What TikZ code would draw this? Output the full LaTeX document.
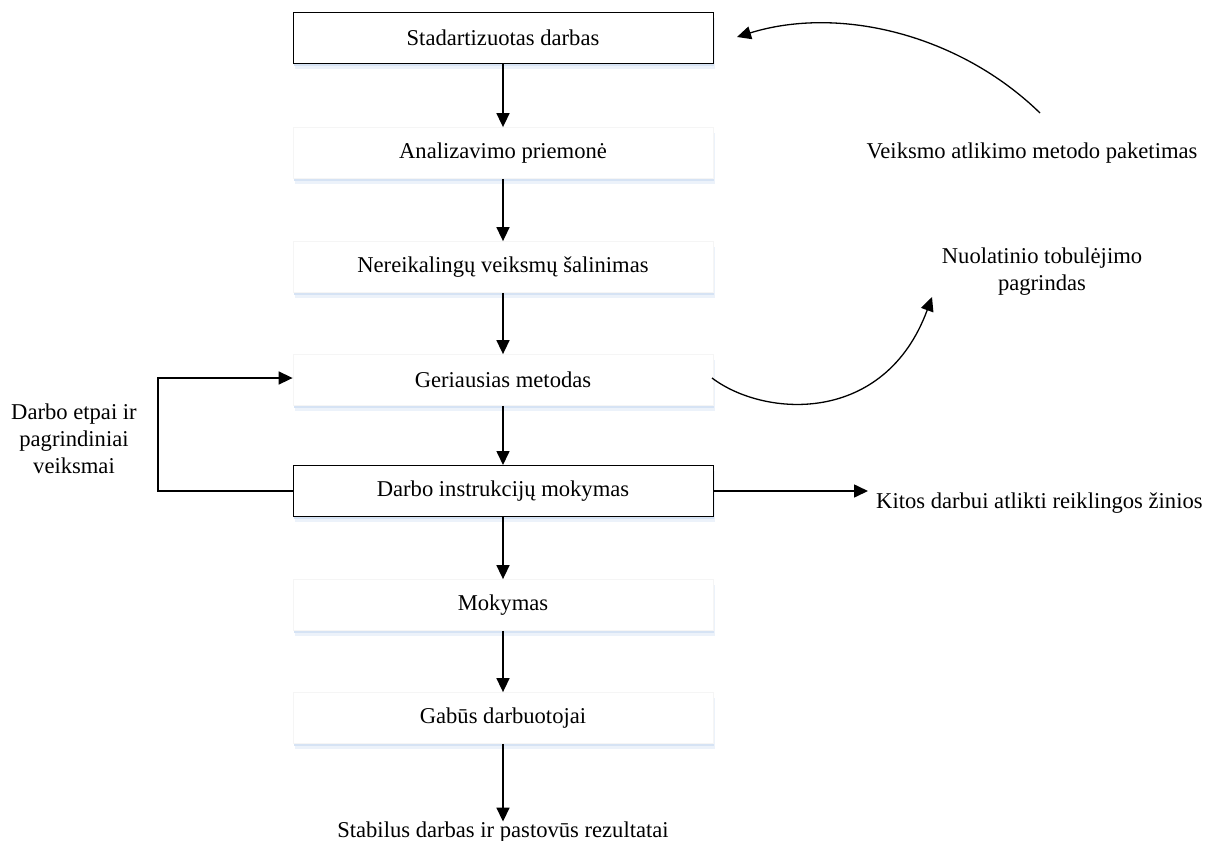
\documentclass[tikz,border=0pt]{standalone}
\usepackage{fontspec}
\setmainfont{Liberation Serif}
\usetikzlibrary{arrows.meta,shadows,calc}

\definecolor{shadenear}{RGB}{214,227,244}
\definecolor{shadefar}{RGB}{236,242,250}

\tikzset{
  flowbox/.style={rectangle, minimum width=420pt, minimum height=51pt,
    fill=white, inner sep=0pt,
    general shadow={fill=shadefar, shadow yshift=-5pt, shadow xshift=1.5pt},
    general shadow={fill=shadenear, shadow yshift=-2.5pt, shadow xshift=0.5pt}},
  keybox/.style={flowbox, draw=black, line width=1pt},
  plainbox/.style={flowbox, draw=black!4, line width=0.8pt},
  note/.style={align=center, inner sep=0pt},
  flow/.style={line width=1.6pt, -{Triangle[length=14pt,width=13pt]}},
  curvearrow/.style={line width=1.3pt, -{Triangle[length=14pt,width=13pt]}}
}

\begin{document}
\begin{tikzpicture}[x=1pt,y=-1pt,font=\fontsize{22.6}{27}\selectfont]
\useasboundingbox (0,0) rectangle (1219,841);

% main chain
\node[keybox]   (std)  at (503,38)  {Stadartizuotas darbas};
\node[plainbox] (anal) at (503,153) {Analizavimo priemonė};
\node[plainbox] (ner)  at (503,267) {Nereikalingų veiksmų šalinimas};
\node[plainbox] (geri) at (503,380) {Geriausias metodas};
\node[keybox]   (inst) at (503,491) {Darbo instrukcijų mokymas};
\node[plainbox] (mok)  at (503,605) {Mokymas};
\node[plainbox] (gab)  at (503,718) {Gabūs darbuotojai};
\node[note]     (stab) at (503,832) {Stabilus darbas ir pastovūs rezultatai};

% side notes
\node[note] (veik) at (1032,153) {Veiksmo atlikimo metodo paketimas};
\node[note] (nuol) at (1042,272) {Nuolatinio tobulėjimo\\pagrindas};
\node[note] (etap) at (74,439)   {Darbo etpai ir\\pagrindiniai\\veiksmai};
\node[note, anchor=west] (kit) at (876,503) {Kitos darbui atlikti reiklingos žinios};

% free ends of the curved arrows
\coordinate (c1s) at (1040,113);
\coordinate (c1e) at (737,37);
\coordinate (c2s) at (712,378);
\coordinate (c2e) at (932,297);
\coordinate (loopx) at (158,491);

% vertical flow
\draw[flow] (std)  -- (anal);
\draw[flow] (anal) -- (ner);
\draw[flow] (ner)  -- (geri);
\draw[flow] (geri) -- (inst);
\draw[flow] (inst) -- (mok);
\draw[flow] (mok)  -- (gab);
\draw[flow] (gab)  -- (stab);

% feedback loop and side output
\draw[flow] (inst.west) -- (loopx) |- ($(geri.west)+(0,-2)$);
\draw[flow] (inst.east) -- ($(inst.east -| kit.west)+(-8,0)$);

% curved arrows
\draw[curvearrow] (c1s) .. controls (960,35) and (840,5) .. (c1e);
\draw[curvearrow] (c2s) .. controls (765,418) and (885,425) .. (c2e);
\end{tikzpicture}
\end{document}
